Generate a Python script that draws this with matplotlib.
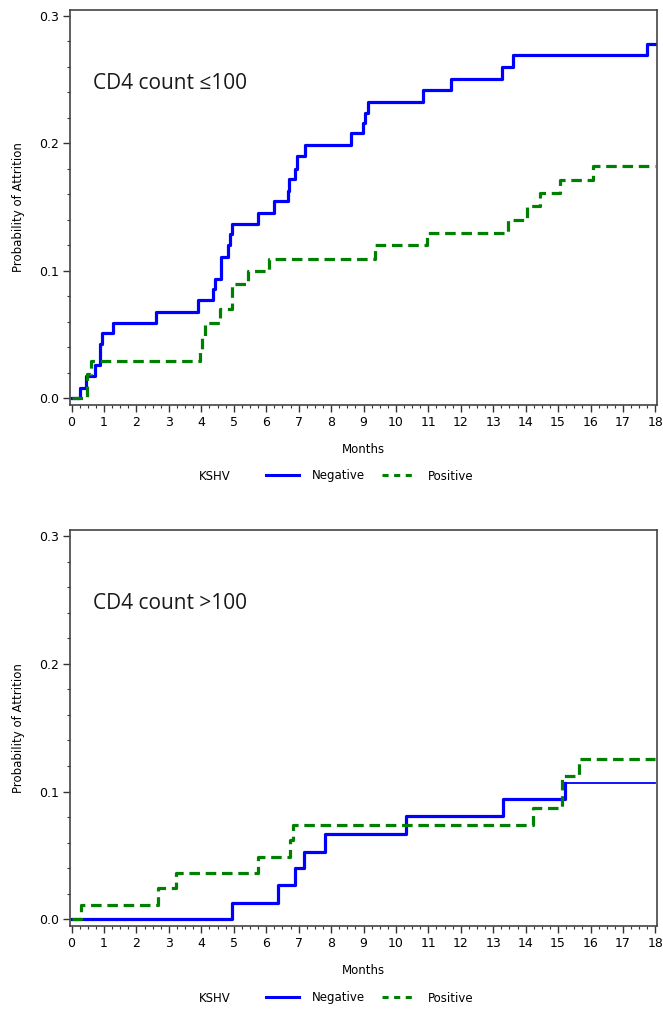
import matplotlib.pyplot as plt
from matplotlib.ticker import MultipleLocator
from matplotlib.lines import Line2D

# months / cumulative probability of attrition
top_neg_t = [0, 0.25, 0.45, 0.71, 0.89, 0.94, 1.28, 2.59, 3.9, 4.36, 4.41, 4.62, 4.83, 4.88, 4.95,
             5.75, 6.24, 6.68, 6.71, 6.9, 6.94, 7.19, 8.6, 8.99, 9.04, 9.15, 10.85, 11.7, 13.28,
             13.6, 17.74, 18]
top_neg_p = [0, 0.0084, 0.0175, 0.0265, 0.043, 0.051, 0.059, 0.0675, 0.077, 0.086, 0.0935, 0.111,
             0.12, 0.1286, 0.137, 0.1455, 0.155, 0.163, 0.172, 0.18, 0.19, 0.199, 0.208, 0.216,
             0.2236, 0.2327, 0.242, 0.2505, 0.26, 0.2695, 0.278, 0.278]
top_pos_t = [0, 0.48, 0.6, 3.95, 4.03, 4.12, 4.59, 4.93, 5.44, 6.09, 9.35, 10.95, 13.47, 14.03,
             14.44, 15.06, 16.09, 18]
top_pos_p = [0, 0.0195, 0.029, 0.039, 0.049, 0.059, 0.07, 0.09, 0.0998, 0.1097, 0.12, 0.13, 0.14,
             0.151, 0.161, 0.171, 0.182, 0.182]

bot_neg_t = [0, 4.93, 6.37, 6.88, 7.16, 7.81, 10.31, 13.31, 15.2, 18]
bot_neg_p = [0, 0.013, 0.027, 0.040, 0.053, 0.067, 0.081, 0.094, 0.107, 0.107]
bot_pos_t = [0, 0.3, 2.66, 3.23, 5.75, 6.73, 6.83, 14.24, 15.11, 15.63, 18]
bot_pos_p = [0, 0.0112, 0.0247, 0.036, 0.049, 0.062, 0.074, 0.087, 0.112, 0.1255, 0.1255]

panel_labels = ['CD4 count \u2264100', 'CD4 count >100']
group_names = ['Negative', 'Positive']

BLUE = '#0000ff'
GREEN = '#008000'
W, H = 663, 1010


def px(x, y):
    # figure pixel (from top-left) -> figure fraction
    return x / W, 1 - y / H


def setupAxes(ax):
    ax.set_xlim(-0.05, 18.05)
    ax.set_ylim(-0.0052, 0.3047)
    ax.xaxis.set_major_locator(MultipleLocator(1))
    ax.xaxis.set_minor_locator(MultipleLocator(0.25))
    ax.yaxis.set_major_locator(MultipleLocator(0.1))
    ax.yaxis.set_minor_locator(MultipleLocator(0.02))
    ax.yaxis.set_major_formatter(lambda v, p: '%.1f' % v)
    ax.tick_params(which='major', direction='out', length=5, width=1, labelsize=9,
                   color='#333333', pad=3)
    ax.tick_params(which='minor', direction='out', length=2.5, width=0.8, color='#333333')
    for s in ax.spines.values():
        s.set_color('#444444')
        s.set_linewidth(1.2)
    ax.set_xlabel('Months', fontsize=8.5, labelpad=10)
    ax.set_ylabel('Probability of Attrition', fontsize=8.5, labelpad=10)


def addLegend(fig, ypix):
    fig.text(*px(199, ypix), 'KSHV', fontsize=8.5, va='center', ha='left')
    handles = [Line2D([], [], color=BLUE, lw=2.2),
               Line2D([], [], color=GREEN, lw=2.2, ls=(0, (2.0, 1.8)))]
    fig.legend(handles, group_names, loc='center', bbox_to_anchor=px(370, ypix), ncol=2,
               frameon=False, fontsize=8.5, handlelength=2.8, handletextpad=1.1,
               columnspacing=1.4)


def main():
    fig = plt.figure(figsize=(W / 100, H / 100), dpi=100)
    ax1 = fig.add_axes([70 / W, 1 - 405 / H, 587 / W, 395 / H])
    ax2 = fig.add_axes([70 / W, 1 - 926 / H, 587 / W, 396 / H])

    for ax in (ax1, ax2):
        setupAxes(ax)

    ax1.step(top_neg_t, top_neg_p, where='post', color=BLUE, lw=2.3)
    ax1.step(top_pos_t, top_pos_p, where='post', color=GREEN, lw=2.3, ls=(0, (3.3, 1.8)))

    # last KSHV-negative step in the lower panel is drawn thinner in the original
    ax2.step(bot_neg_t[:-1], bot_neg_p[:-1], where='post', color=BLUE, lw=2.3)
    ax2.plot(bot_neg_t[-2:], bot_neg_p[-2:], color=BLUE, lw=1.3)
    ax2.step(bot_pos_t, bot_pos_p, where='post', color=GREEN, lw=2.3, ls=(0, (3.3, 1.8)))

    for ax, lab in zip((ax1, ax2), panel_labels):
        ax.text(0.04, 0.815, lab, transform=ax.transAxes, fontsize=15,
                family=['Open Sans', 'DejaVu Sans'], color='#1a1a1a', va='center', ha='left')

    addLegend(fig, 476)
    addLegend(fig, 998)

    fig.savefig('out.png', dpi=100)


if __name__ == '__main__':
    main()
